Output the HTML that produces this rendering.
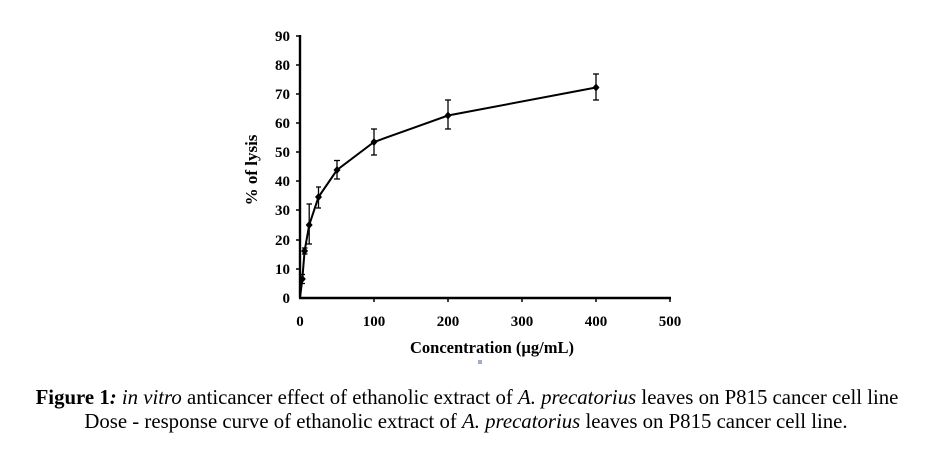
<!DOCTYPE html>
<html><head><style>
body{margin:0;background:#fff;width:931px;height:452px;overflow:hidden}
svg{display:block}
</style></head><body>
<svg width="931" height="452" xmlns="http://www.w3.org/2000/svg" font-family="Liberation Serif, serif">
<g stroke="#000" stroke-width="2.4" fill="none">
<line x1="300" y1="35" x2="300" y2="298"/>
<line x1="299" y1="298" x2="671" y2="298"/>
</g>
<g stroke="#000" stroke-width="1.5">
<line x1="296" y1="36" x2="300" y2="36"/><line x1="296" y1="65" x2="300" y2="65"/><line x1="296" y1="94" x2="300" y2="94"/><line x1="296" y1="123" x2="300" y2="123"/><line x1="296" y1="152" x2="300" y2="152"/><line x1="296" y1="181" x2="300" y2="181"/><line x1="296" y1="210" x2="300" y2="210"/><line x1="296" y1="240" x2="300" y2="240"/><line x1="296" y1="269" x2="300" y2="269"/>
<line x1="374" y1="298" x2="374" y2="302"/><line x1="448" y1="298" x2="448" y2="302"/><line x1="522" y1="298" x2="522" y2="302"/><line x1="596" y1="298" x2="596" y2="302"/><line x1="670" y1="298" x2="670" y2="302"/>
</g>
<g font-size="15" font-weight="bold" text-anchor="end">
<text x="290" y="41">90</text><text x="290" y="70">80</text><text x="290" y="99">70</text><text x="290" y="128">60</text><text x="290" y="157">50</text><text x="290" y="186">40</text><text x="290" y="215">30</text><text x="290" y="245">20</text><text x="290" y="274">10</text><text x="290" y="303">0</text>
</g>
<g font-size="15" font-weight="bold" text-anchor="middle">
<text x="300" y="326">0</text><text x="374" y="326">100</text><text x="448" y="326">200</text><text x="522" y="326">300</text><text x="596" y="326">400</text><text x="670" y="326">500</text>
<text x="492" y="353" font-size="16.5">Concentration (µg/mL)</text>
<text transform="translate(257,170) rotate(-90)" font-size="17">% of lysis</text>
</g>
<rect x="478" y="360" width="4" height="4" fill="#9bb0c8"/>
<polyline fill="none" stroke="#000" stroke-width="2" points="300,298 302.3,279 304.6,251 309.2,225 318.5,197 337,170 374,142 448,115.5 596,87.5"/>
<g stroke="#000" stroke-width="1.3">
<line x1="302.3" y1="274.5" x2="302.3" y2="283.5"/><line x1="299.5" y1="274.5" x2="305" y2="274.5"/><line x1="299.5" y1="283.5" x2="305" y2="283.5"/>
<line x1="304.6" y1="248" x2="304.6" y2="254"/><line x1="302" y1="248" x2="307.5" y2="248"/><line x1="302" y1="254" x2="307.5" y2="254"/>
<line x1="309.2" y1="204" x2="309.2" y2="244"/><line x1="306.5" y1="204" x2="312" y2="204"/><line x1="306.5" y1="244" x2="312" y2="244"/>
<line x1="318.5" y1="187" x2="318.5" y2="208"/><line x1="316" y1="187" x2="321" y2="187"/><line x1="316" y1="208" x2="321" y2="208"/>
<line x1="337" y1="160.5" x2="337" y2="179"/><line x1="334" y1="160.5" x2="340" y2="160.5"/><line x1="334" y1="179" x2="340" y2="179"/>
<line x1="374" y1="129" x2="374" y2="155"/><line x1="371" y1="129" x2="377" y2="129"/><line x1="371" y1="155" x2="377" y2="155"/>
<line x1="448" y1="100" x2="448" y2="129"/><line x1="445" y1="100" x2="451" y2="100"/><line x1="445" y1="129" x2="451" y2="129"/>
<line x1="596" y1="74" x2="596" y2="100"/><line x1="593" y1="74" x2="599" y2="74"/><line x1="593" y1="100" x2="599" y2="100"/>
</g>
<g fill="#000">
<path d="M302.3 275l3.5 4-3.5 4-3.5-4z"/><path d="M304.6 247l3.5 4-3.5 4-3.5-4z"/><path d="M309.2 221l3.5 4-3.5 4-3.5-4z"/><path d="M318.5 193l3.5 4-3.5 4-3.5-4z"/><path d="M337 166l3.5 4-3.5 4-3.5-4z"/><path d="M374 138l3.5 4-3.5 4-3.5-4z"/><path d="M448 111.5l3.5 4-3.5 4-3.5-4z"/><path d="M596 83.5l3.5 4-3.5 4-3.5-4z"/>
</g>
<text x="467" y="404" font-size="20.8" text-anchor="middle"><tspan font-weight="bold">Figure 1</tspan><tspan font-style="italic" font-weight="bold">:</tspan> <tspan font-style="italic">in vitro</tspan> anticancer effect of ethanolic extract of <tspan font-style="italic">A. precatorius</tspan> leaves on P815 cancer cell line</text>
<text x="466" y="428" font-size="20.8" text-anchor="middle">Dose - response curve of ethanolic extract of <tspan font-style="italic">A. precatorius</tspan> leaves on P815 cancer cell line.</text>
</svg>
</body></html>
